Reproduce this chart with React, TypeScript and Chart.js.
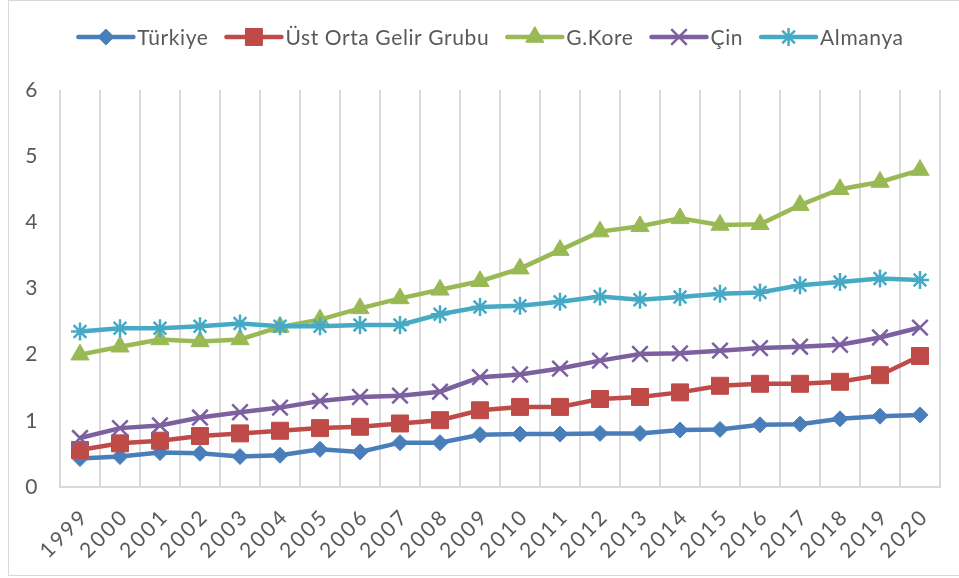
import React, { useEffect, useRef } from 'react';
import { Chart, registerables } from 'chart.js';
import { drawPoint } from 'chart.js/helpers';

Chart.register(...registerables);

const years = ['1999', '2000', '2001', '2002', '2003', '2004', '2005', '2006', '2007', '2008', '2009', '2010', '2011', '2012', '2013', '2014', '2015', '2016', '2017', '2018', '2019', '2020'];
const turkiye = [0.43, 0.46, 0.52, 0.51, 0.46, 0.48, 0.57, 0.53, 0.67, 0.67, 0.79, 0.8, 0.8, 0.81, 0.81, 0.86, 0.87, 0.94, 0.95, 1.03, 1.07, 1.09];
const ustOrta = [0.56, 0.66, 0.7, 0.77, 0.81, 0.85, 0.89, 0.91, 0.96, 1.01, 1.16, 1.21, 1.21, 1.33, 1.36, 1.43, 1.53, 1.56, 1.56, 1.59, 1.69, 1.98];
const gKore = [2.0, 2.12, 2.23, 2.2, 2.23, 2.42, 2.53, 2.7, 2.85, 2.98, 3.11, 3.3, 3.58, 3.86, 3.94, 4.06, 3.96, 3.97, 4.26, 4.5, 4.61, 4.79];
const cin = [0.74, 0.89, 0.93, 1.05, 1.13, 1.2, 1.3, 1.36, 1.38, 1.44, 1.66, 1.7, 1.79, 1.91, 2.01, 2.02, 2.06, 2.1, 2.12, 2.15, 2.26, 2.41];
const almanya = [2.35, 2.4, 2.4, 2.43, 2.47, 2.43, 2.43, 2.45, 2.45, 2.61, 2.72, 2.74, 2.8, 2.88, 2.83, 2.87, 2.92, 2.94, 3.05, 3.1, 3.15, 3.13];
const yTicks = [0, 1, 2, 3, 4, 5, 6];

const seriesNames = ['Türkiye', 'Üst Orta Gelir Grubu', 'G.Kore', 'Çin', 'Almanya'];
const seriesData = [turkiye, ustOrta, gKore, cin, almanya];
const seriesColors = ['#4A7EBB', '#BE4B48', '#98B954', '#7D60A0', '#46AAC5'];
const seriesStyles = ['rectRot', 'rect', 'triangle', 'crossRot', 'star'];
const seriesRadius = [8, 12, 10.5, 11, 9];

const FONT = 'Lato, "Open Sans", sans-serif';
const TEXT = '#595959';
const GRID = '#d9d9d9';

const spacingPlugin = {
  id: 'tickSpacing',
  beforeDraw(chart: any) {
    (chart.ctx as any).letterSpacing = '2.5px';
  },
};

const legendPlugin = {
  id: 'customLegend',
  afterDraw(chart: any) {
    const ctx = chart.ctx as CanvasRenderingContext2D;
    ctx.save();
    (ctx as any).letterSpacing = '0.6px';
    ctx.font = `21px ${FONT}`;
    const lineLen = 55;
    const gap = 4;
    const spacing = 18;
    const ds = chart.data.datasets;
    const widths = ds.map((d: any) => ctx.measureText(d.label).width);
    const total = widths.reduce((a: number, w: number) => a + lineLen + gap + w, 0) + spacing * (ds.length - 1);
    let x = 482 - total / 2;
    const y = 36;
    ds.forEach((d: any, i: number) => {
      ctx.strokeStyle = d.borderColor;
      ctx.fillStyle = d.borderColor;
      ctx.lineWidth = 4.5;
      ctx.lineCap = 'round';
      ctx.beginPath();
      ctx.moveTo(x, y);
      ctx.lineTo(x + lineLen, y);
      ctx.stroke();
      ctx.lineCap = 'butt';
      ctx.lineWidth = d.pointStyle === 'crossRot' || d.pointStyle === 'star' ? 2.5 : 1;
      drawPoint(ctx, { pointStyle: d.pointStyle, radius: d.pointRadius, rotation: 0, borderWidth: ctx.lineWidth } as any, x + lineLen / 2, y);
      ctx.fillStyle = TEXT;
      ctx.textBaseline = 'middle';
      ctx.textAlign = 'left';
      ctx.fillText(d.label, x + lineLen + gap, y + 1);
      x += lineLen + gap + widths[i] + spacing;
    });
    ctx.restore();
  },
};

export default function App() {
  const ref = useRef<HTMLCanvasElement>(null);
  useEffect(() => {
    document.documentElement.style.overflow = 'hidden';
    document.body.style.overflow = 'hidden';
    const datasets = seriesNames.map((name, i) => ({
      label: name,
      data: seriesData[i],
      borderColor: seriesColors[i],
      backgroundColor: seriesColors[i],
      pointBackgroundColor: seriesColors[i],
      pointBorderColor: seriesColors[i],
      pointStyle: seriesStyles[i],
      pointRadius: seriesRadius[i],
      pointBorderWidth: seriesStyles[i] === 'crossRot' || seriesStyles[i] === 'star' ? 2.5 : 1,
      borderWidth: 4.5,
      tension: 0,
      fill: false,
      order: seriesNames.length - i,
    }));
    const chart = new Chart(ref.current as HTMLCanvasElement, {
      type: 'line',
      data: { labels: years, datasets },
      options: {
        responsive: false,
        animation: false,
        events: [],
        layout: { padding: { top: 89, right: 19, left: 0, bottom: 0 } },
        scales: {
          x: {
            type: 'category',
            offset: true,
            grid: { offset: true, color: GRID, lineWidth: 2, drawTicks: false },
            border: { color: GRID, width: 2 },
            ticks: {
              color: TEXT,
              font: { family: FONT, size: 21 },
              minRotation: 45,
              maxRotation: 45,
              autoSkip: false,
              padding: 17,
              labelOffset: 5,
            },
            afterFit: (s: any) => {
              s.height = 88;
            },
          },
          y: {
            min: 0,
            max: 6,
            afterBuildTicks: (s: any) => {
              s.ticks = yTicks.map((v) => ({ value: v }));
            },
            ticks: { color: TEXT, font: { family: FONT, size: 21 }, padding: 20 },
            grid: { display: false, drawTicks: false },
            border: { display: false },
            afterFit: (s: any) => {
              s.width = 51;
            },
          },
        },
        plugins: {
          legend: { display: false },
          tooltip: { enabled: false },
        },
      },
      plugins: [spacingPlugin, legendPlugin],
    } as any);
    return () => chart.destroy();
  }, []);
  return (
    <div
      style={{
        position: 'absolute',
        left: 8,
        top: 0,
        width: 960,
        height: 574,
        border: `1px solid ${GRID}`,
        background: '#fff',
      }}
    >
      <canvas ref={ref} width={950} height={574} style={{ display: 'block', width: 950, height: 574 }} />
    </div>
  );
}
